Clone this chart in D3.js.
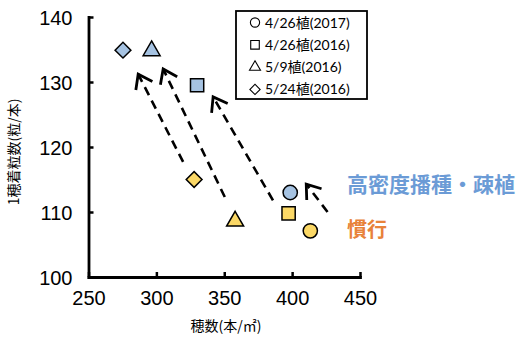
<!DOCTYPE html>
<html><head><meta charset="utf-8">
<script src="https://cdn.jsdelivr.net/npm/d3@7"></script>
<style>body{margin:0;background:#fff}svg{display:block}</style>
</head><body>
<svg id="c" width="525" height="338"></svg>
<script>
// ---- data ----
const seriesNames = ["4/26植(2017)", "4/26植(2016)", "5/9植(2016)", "5/24植(2016)"];
const seriesShapes = ["circle", "square", "triangle", "diamond"];
const highDensityX = [398.6, 330, 296.5, 275.4];
const highDensityY = [113, 129.5, 134.8, 134.9];
const conventionalX = [413.4, 397.4, 358, 327.8];
const conventionalY = [107.1, 109.8, 108.6, 115];
const xTicks = [250, 300, 350, 400, 450];
const yTicks = [100, 110, 120, 130, 140];
// arrows: tail -> head (data units)
const arrowTailX = [319.7, 350.4, 385.9, 426.1];
const arrowTailY = [117.7, 112.3, 111.8, 110.0];
const arrowHeadX = [286.6, 305.0, 341.8, 410.4];
const arrowHeadY = [131.2, 132.0, 127.7, 114.3];
const labelHigh = "高密度播種・疎植";
const labelConv = "慣行";
const xTitle = "穂数(本/㎡)";
const yTitle = "1穂着粒数(粒/本)";

const svg = d3.select("#c");
const x = d3.scaleLinear().domain([250, 450]).range([88.5, 360]);
const y = d3.scaleLinear().domain([100, 140]).range([277, 17]);

const blueFill = "#a6c3e2", yellowFill = "#fbd866";
const shapeMap = {circle: d3.symbolCircle, square: d3.symbolSquare, triangle: d3.symbolTriangle, diamond: d3.symbolSquare};
const sizeMap = {circle: 160, square: 175, triangle: 125, diamond: 125};
const rotMap = {circle: 0, square: 0, triangle: 0, diamond: 45};

// axes
const xAxis = d3.axisBottom(x).tickValues(xTicks).tickSize(-5).tickPadding(14).tickSizeOuter(0);
const yAxis = d3.axisLeft(y).tickValues(yTicks).tickSize(-5).tickPadding(16).tickSizeOuter(0);
const gx = svg.append("g").attr("transform", `translate(0,${y(100)})`).call(xAxis);
const gy = svg.append("g").attr("transform", `translate(${x(250)},0)`).call(yAxis);
[gx, gy].forEach(g => {
  g.select(".domain").attr("stroke", "#000").attr("stroke-width", 2.8).attr("stroke-linecap", "square");
  g.selectAll(".tick line").attr("stroke", "#000").attr("stroke-width", 2.5);
  g.selectAll(".tick text").attr("fill", "#000").attr("font-family", "'Liberation Sans', Arial, sans-serif").attr("font-size", 20);
});
gx.selectAll(".tick text").attr("dy", "0.71em");
gy.selectAll(".tick text").attr("dy", "0.35em");

// axis titles
svg.append("text").attr("x", 226).attr("y", 331).attr("text-anchor", "middle")
  .attr("font-family", "'Noto Sans CJK JP', sans-serif").attr("font-size", 14).attr("fill", "#000").text(xTitle);
svg.append("text").attr("transform", "translate(19,152) rotate(-90)").attr("text-anchor", "middle")
  .attr("font-family", "'Noto Sans CJK JP', sans-serif").attr("font-size", 14).attr("fill", "#000").text(yTitle);

// arrows
const arrows = arrowTailX.map((d, i) => ({x1: x(d), y1: y(arrowTailY[i]), x2: x(arrowHeadX[i]), y2: y(arrowHeadY[i])}));
const ag = svg.append("g");
arrows.forEach(a => {
  ag.append("line").attr("x1", a.x1).attr("y1", a.y1).attr("x2", a.x2).attr("y2", a.y2)
    .attr("stroke", "#000").attr("stroke-width", 2.6).attr("stroke-dasharray", "9,6");
  const ang = Math.atan2(a.y1 - a.y2, a.x1 - a.x2);
  const L = 16, spread = 0.62;
  const p1 = [a.x2 + L * Math.cos(ang - spread), a.y2 + L * Math.sin(ang - spread)];
  const p2 = [a.x2 + L * Math.cos(ang + spread), a.y2 + L * Math.sin(ang + spread)];
  ag.append("path").attr("d", `M${p1[0]},${p1[1]}L${a.x2},${a.y2}L${p2[0]},${p2[1]}`)
    .attr("fill", "none").attr("stroke", "#000").attr("stroke-width", 2.8).attr("stroke-linejoin", "miter");
});

// points
function drawSeries(xs, ys, fill) {
  svg.append("g").selectAll("path").data(xs).join("path")
    .attr("transform", (d, i) => `translate(${x(d)},${y(ys[i])}) rotate(${rotMap[seriesShapes[i]]})`)
    .attr("d", (d, i) => d3.symbol().type(shapeMap[seriesShapes[i]]).size(sizeMap[seriesShapes[i]])())
    .attr("fill", fill).attr("stroke", "#000").attr("stroke-width", 1.5);
}
drawSeries(conventionalX, conventionalY, yellowFill);
drawSeries(highDensityX, highDensityY, blueFill);

// legend
const lg = svg.append("g");
lg.append("rect").attr("x", 236).attr("y", 11).attr("width", 131).attr("height", 88)
  .attr("fill", "#fff").attr("stroke", "#000").attr("stroke-width", 1.8);
seriesNames.forEach((n, i) => {
  const cy = 22.5 + i * 22.3;
  const s = seriesShapes[i];
  lg.append("path").attr("transform", `translate(255,${cy}) rotate(${rotMap[s]})`)
    .attr("d", d3.symbol().type(shapeMap[s]).size(sizeMap[s] * 0.42)())
    .attr("fill", "#fff").attr("stroke", "#000").attr("stroke-width", 1.1);
  lg.append("text").attr("x", 265).attr("y", cy).attr("dy", "0.36em")
    .attr("font-family", "Lato, 'Noto Sans CJK JP', sans-serif").attr("font-size", 14).attr("fill", "#000").text(n);
});

// annotations
svg.append("text").attr("x", 347).attr("y", 184).attr("dy", "0.36em")
  .attr("font-family", "'Noto Sans CJK JP', sans-serif").attr("font-weight", "bold").attr("font-size", 21)
  .attr("fill", "#6b9bd6").text(labelHigh);
svg.append("text").attr("x", 347).attr("y", 230).attr("dy", "0.36em")
  .attr("font-family", "'Noto Sans CJK JP', sans-serif").attr("font-weight", "bold").attr("font-size", 20)
  .attr("fill", "#e8823a").text(labelConv);
</script>
</body></html>
